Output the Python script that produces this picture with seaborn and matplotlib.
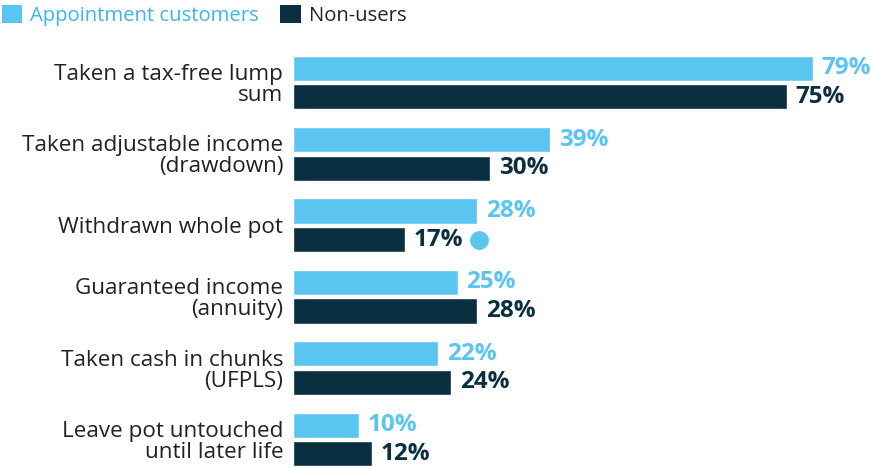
import matplotlib
matplotlib.use("Agg")
import matplotlib.pyplot as plt
import matplotlib.transforms as mtransforms
from matplotlib.patches import Patch
import seaborn as sns
import pandas as pd

categories = [
    "Taken a tax-free lump\nsum",
    "Taken adjustable income\n(drawdown)",
    "Withdrawn whole pot",
    "Guaranteed income\n(annuity)",
    "Taken cash in chunks\n(UFPLS)",
    "Leave pot untouched\nuntil later life",
]
series_names = ["Appointment customers", "Non-users"]
appointment = [79, 39, 28, 25, 22, 10]
non_users = [75, 30, 17, 28, 24, 12]
significant = [False, False, True, False, False, False]

LIGHT = "#5BC5F2"
DARK = "#0A2F41"
TEXT = "#222222"

df = pd.DataFrame({
    "category": categories * 2,
    "group": [series_names[0]] * len(categories) + [series_names[1]] * len(categories),
    "value": appointment + non_users,
})

sns.set_theme(style="white")
plt.rcParams["font.family"] = ["Open Sans", "DejaVu Sans"]

W, H = 871, 468
fig = plt.figure(figsize=(W / 100, H / 100), dpi=100)
ax_left, ax_right = 293, 871
ax_top, ax_bot = 47, 468
ax = fig.add_axes([ax_left / W, 1 - ax_bot / H, (ax_right - ax_left) / W, (ax_bot - ax_top) / H])

sns.barplot(data=df, y="category", x="value", hue="group", order=categories,
            hue_order=series_names, palette=[LIGHT, DARK], orient="h",
            width=0.8, gap=0.12, saturation=1, ax=ax, legend=False)

px_per_unit = 6.58
ax.set_xlim(0, (ax_right - ax_left) / px_per_unit)
ax.set_ylim(5.399, -0.497)

for s in ax.spines.values():
    s.set_visible(False)
ax.set_xticks([])
ax.set_xlabel("")
ax.set_ylabel("")
ax.tick_params(axis="y", length=0, pad=7)
for lab in ax.get_yticklabels():
    lab.set_fontsize(16.2)
    lab.set_color(TEXT)
    lab.set_linespacing(1.0)

colors = [LIGHT, DARK]
for ci, cont in enumerate(ax.containers):
    for bi, bar in enumerate(cont):
        v = bar.get_width()
        yc = bar.get_y() + bar.get_height() / 2
        ax.annotate(f"{v:.0f}%", xy=(v, yc), xytext=(6.5, 0), textcoords="offset points",
                    ha="left", va="center", fontsize=17.5, fontweight="bold", color=colors[ci])
        if ci == 1 and significant[bi]:
            tr = mtransforms.offset_copy(ax.transData, fig=fig, x=74, y=0, units="dots")
            ax.plot([v], [yc], marker="o", markersize=12.5, color=LIGHT, transform=tr,
                    clip_on=False, linestyle="none")

handles = [Patch(facecolor=LIGHT, edgecolor="none"), Patch(facecolor=DARK, edgecolor="none")]
leg = fig.legend(handles, series_names, loc="upper left", bbox_to_anchor=(0.0, 1.0 - 3 / H),
                 ncol=2, frameon=False, fontsize=14.6, handlelength=1.0, handleheight=1.0,
                 handletextpad=0.4, columnspacing=1.05, borderaxespad=0.0, borderpad=0.1)
leg.get_texts()[0].set_color("#3DB5E8")
leg.get_texts()[1].set_color(TEXT)

fig.savefig("out.png", dpi=100)
